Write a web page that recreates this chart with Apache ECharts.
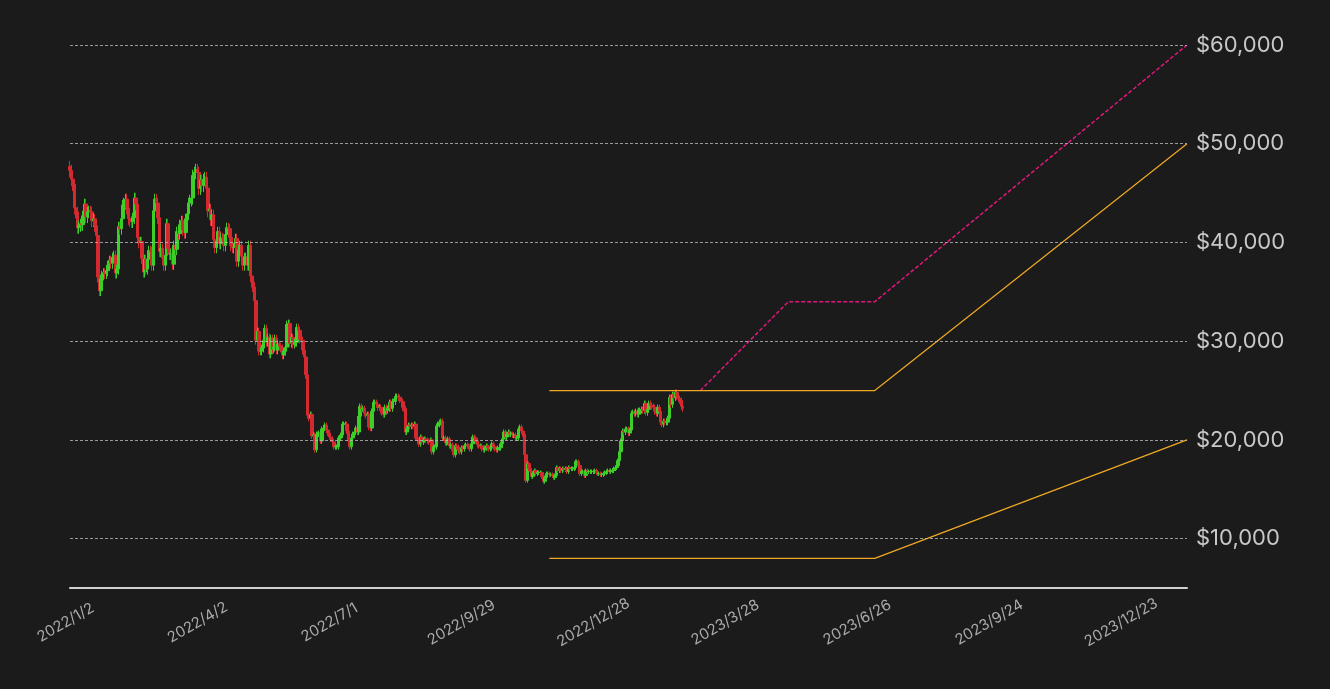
<!DOCTYPE html>
<html><head><meta charset="utf-8">
<script src="https://cdn.jsdelivr.net/npm/echarts@6/dist/echarts.min.js"></script>
<style>html,body{margin:0;background:#1b1b1b}#app{width:1330px;height:689px}</style>
</head><body><div id="app"></div>
<script>
// daily closes 2022/1/2 .. 2023/2/24
const closes = [
  47300,46400,45900,43500,43100,41500,41700,41900,41800,42700,43900,42600,43100,43200,43100,42200,42400,41700,40700,36500,35100,36300,36700,36950,36850,37140,37700,38200,37900,38500,
  38700,36900,37300,41600,41400,42400,43800,44000,44400,43500,42400,42200,42100,42500,44500,43900,40500,40000,40100,38400,37000,38300,37300,38300,39200,39100,37700,43200,
  44400,44000,42500,39100,39400,38400,37700,38700,41900,39400,38800,38900,37800,39700,39300,41100,40900,41800,42200,41300,41000,42400,42900,44000,44300,44500,46800,47100,47400,47100,45500,
  46300,45800,46400,46600,45500,43200,43400,42300,42800,40300,39500,40100,41100,39900,40500,40400,39700,40800,41500,41400,40500,39700,39500,39500,40400,38100,39200,39700,38600,37700,
  38500,38500,37700,39700,36600,36000,35500,34100,30100,31000,29000,29000,29300,30100,31300,29900,30400,28700,30300,29200,29400,30300,29100,29700,29500,29300,28600,29000,29400,31700,31800,
  29800,30400,29700,29900,29900,31400,31100,30200,30100,29100,28400,26600,22500,22200,22600,20400,20500,19000,20600,20600,20700,19900,21100,21200,21500,21000,20700,20300,20100,19800,
  19300,19300,19300,20200,20200,20500,21600,21600,21600,20900,19900,19300,20200,20600,20800,21200,20800,22400,23400,23200,23200,22700,22500,22600,21300,21200,22900,23800,23800,23600,23300,
  23300,23000,22800,22600,23300,23000,23200,23800,23200,23900,23900,24400,24400,24300,24100,23900,23300,23200,20800,21100,21500,21400,21500,21400,21600,20200,20000,19600,20300,19800,20000,
  20100,20000,19900,19800,20000,18800,19300,19300,21400,21600,21800,21900,20200,20200,19700,19800,20100,19400,19500,18900,18500,19400,19300,18900,18800,19200,19100,19400,19500,19400,
  19300,19100,19600,20300,20200,19900,19500,19400,19400,19100,19000,19200,19400,19200,19100,19200,19600,19300,19100,19000,19200,19200,19600,20100,20800,20300,20600,20800,20600,20600,20500,
  20500,20200,20200,21100,21300,20900,20600,18500,15900,17600,17100,16800,16300,16600,16900,16600,16700,16700,16700,16300,15800,16200,16600,16600,16500,16500,16400,16200,16400,17200,
  16900,17100,16900,17100,17000,17100,16800,17200,17100,17100,17100,17200,17800,17800,17400,16600,16800,16800,16400,16900,16800,16800,16800,16800,16800,16900,16700,16600,16600,16500,16500,
  16600,16700,16800,16900,16800,16900,16900,17100,17200,17400,17900,18800,19900,20900,20800,21100,21100,20700,21000,22700,22800,22700,22900,22600,23000,23000,23100,23000,23700,22800,23100,
  23700,23500,23400,23300,22900,22700,23300,22900,21800,21600,21900,21800,21800,22200,24300,23600,24600,24300,24800,24400,24200,24000,23400,23200
];
const firstOpen = 47700;
const startDate = '2022/1/2';
const endDate = '2024/2/3';
// projection lines [date, value]
const projHigh = [['2023/3/8', 25000], ['2023/5/7', 34000], ['2023/7/5', 34000], ['2024/2/3', 60000]];
const projMid = [['2022/11/25', 25000], ['2023/7/5', 25000], ['2024/2/3', 50000]];
const projLow = [['2022/11/25', 8000], ['2023/7/5', 8000], ['2024/2/3', 20000]];
const yTicks = [10000, 20000, 30000, 40000, 50000, 60000];

const fmtDate = d => d.getFullYear() + '/' + (d.getMonth() + 1) + '/' + d.getDate();
const dates = [];
for (let d = new Date(startDate), e = new Date(endDate); d <= e; d.setDate(d.getDate() + 1)) dates.push(fmtDate(d));

const candles = closes.map((c, i) => {
    const o = i ? closes[i - 1] : firstOpen;
    return [o, c, Math.min(o, c) * 0.985, Math.max(o, c) * 1.012];
});

const chart = echarts.init(document.getElementById('app'));
chart.setOption({
    backgroundColor: '#1b1b1b',
    animation: false,
    grid: {left: 70, right: 143, top: 45, bottom: 101},
    xAxis: {
        type: 'category', data: dates, boundaryGap: false,
        axisLine: {lineStyle: {color: '#d0d0d0', width: 2}},
        axisTick: {show: false},
        axisLabel: {interval: 89, rotate: 30, align: 'center', margin: 32, color: '#aaa', fontSize: 15, fontFamily: 'Inter',
            padding: [0, 10, 0, 0]}
    },
    yAxis: {
        type: 'value', position: 'right', min: 5000, max: 60000,
        splitLine: {show: false}, axisLine: {show: false}, axisTick: {show: false},
        axisLabel: {customValues: yTicks, margin: 9, color: '#c8c8c8', fontSize: 22, fontFamily: 'Inter',
            padding: [10, 0, 0, 0],
            formatter: v => '$' + v.toLocaleString('en-US')}
    },
    series: [
        {type: 'candlestick', data: candles, barWidth: 3,
            itemStyle: {color: '#3ccf2a', color0: '#d42a2f', borderColor: '#3ccf2a', borderColor0: '#d42a2f'},
            markLine: {silent: true, symbol: 'none', label: {show: false},
                lineStyle: {color: '#bbb', type: [3, 2], width: 0.8},
                data: yTicks.map(v => ({yAxis: v}))}},
        {type: 'line', data: projHigh, symbol: 'none', lineStyle: {color: '#e0187c', width: 1.5, type: [4, 2]}},
        {type: 'line', data: projMid, symbol: 'none', lineStyle: {color: '#f0a824', width: 1.2}},
        {type: 'line', data: projLow, symbol: 'none', lineStyle: {color: '#f0a824', width: 1.2}}
    ]
});
</script></body></html>
